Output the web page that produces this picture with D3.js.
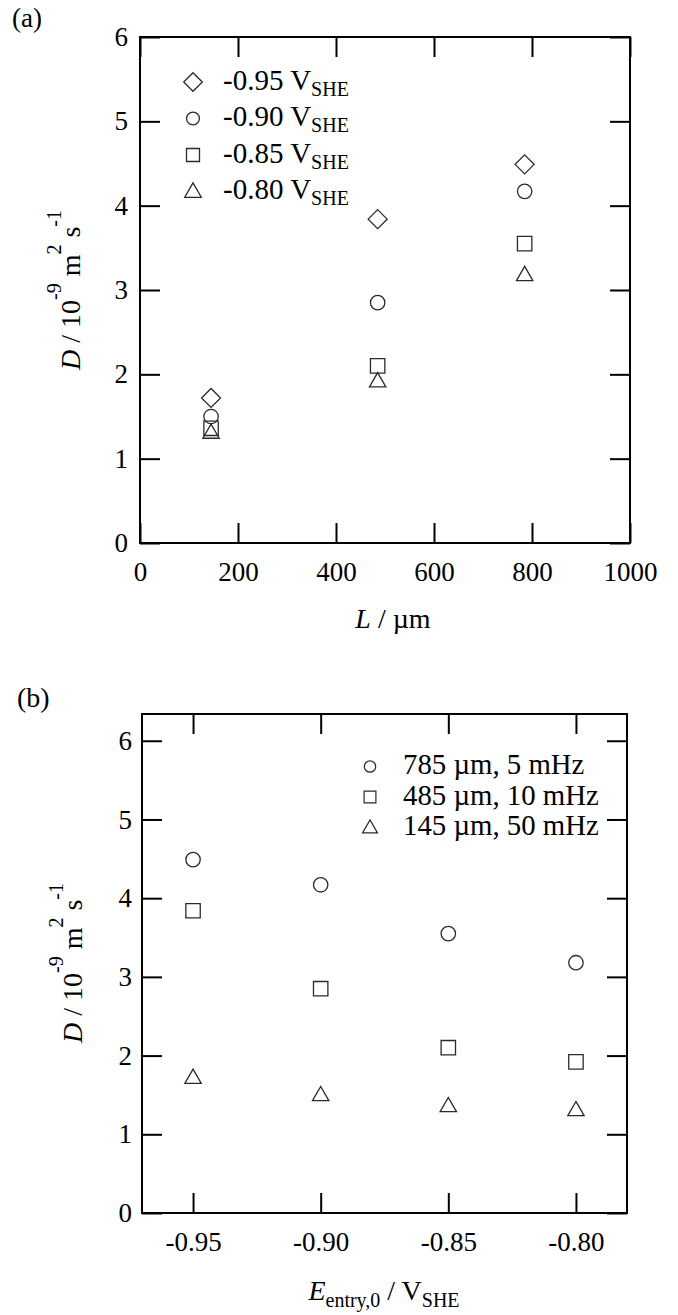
<!DOCTYPE html>
<html>
<head>
<meta charset="utf-8">
<script src="https://cdn.jsdelivr.net/npm/d3@7"></script>
<style>
  html, body { margin: 0; padding: 0; background: #fff; }
  svg { display: block; }
  text { font-family: "Liberation Serif", "Times New Roman", serif; fill: #000; }
</style>
</head>
<body>
<svg id="chart" width="678" height="1315"></svg>
<script>
// Membrane thicknesses (µm) and hydrogen-entry potentials (V vs SHE)
const thicknesses = [145, 485, 785];
const potentials = [-0.95, -0.90, -0.85, -0.80];
const potentialLabels = ["-0.95", "-0.90", "-0.85", "-0.80"];

// Diffusion coefficient D (10^-9 m^2 s^-1) at each thickness, one array per potential
const D_m095 = [1.72, 3.84, 4.49];
const D_m090 = [1.50, 2.85, 4.17];
const D_m085 = [1.36, 2.10, 3.55];
const D_m080 = [1.31, 1.92, 3.18];

// Frequencies used for each thickness (panel b legend)
const freqLabels = ["785 µm, 5 mHz", "485 µm, 10 mHz", "145 µm, 50 mHz"];

// Axis ticks
const xTicksA = [0, 200, 400, 600, 800, 1000];
const yTicksA = [0, 1, 2, 3, 4, 5, 6];
const xTicksB = [-0.95, -0.90, -0.85, -0.80];
const yTicksB = [0, 1, 2, 3, 4, 5, 6];

const svg = d3.select("#chart");
const FONT = 27;
const STROKE = "#2a2a2a";

// Outline markers: r is the half-extent of the shape
function markerPath(kind, r) {
  const p = d3.path();
  if (kind === "circle") {
    p.moveTo(r, 0); p.arc(0, 0, r, 0, 2 * Math.PI);
  } else if (kind === "square") {
    p.rect(-r, -r, 2 * r, 2 * r);
  } else if (kind === "diamond") {
    p.moveTo(0, -r); p.lineTo(r, 0); p.lineTo(0, r); p.lineTo(-r, 0); p.closePath();
  } else if (kind === "triangle") {
    const h = r * Math.sqrt(3);
    p.moveTo(0, -h * 2 / 3 + 1); p.lineTo(r, h / 3 + 1); p.lineTo(-r, h / 3 + 1); p.closePath();
  }
  return p.toString();
}
const markerSize = { diamond: 9.5, circle: 7.2, square: 7.2, triangle: 8.2 };
const legendSizeA = { diamond: 9.3, circle: 6.4, square: 6.5, triangle: 8.3 };
const legendSizeB = { circle: 5.7, square: 5.9, triangle: 7.5 };

function drawFrame(g, x, y, xTicks, yTicks, fmtX, xPad, yPad) {
  const [x0, x1] = x.range();
  const [y0, y1] = y.range();
  const w = x1 - x0, h = y0 - y1;
  const axes = [
    { ax: d3.axisBottom(x).tickValues(xTicks).tickFormat(fmtX).tickSize(-20).tickPadding(xPad), t: `translate(0,${y0})` },
    { ax: d3.axisTop(x).tickValues(xTicks).tickFormat("").tickSize(-20), t: `translate(0,${y1})` },
    { ax: d3.axisLeft(y).tickValues(yTicks).tickFormat(d3.format("d")).tickSize(-20).tickPadding(yPad), t: `translate(${x0},0)` },
    { ax: d3.axisRight(y).tickValues(yTicks).tickFormat("").tickSize(-20), t: `translate(${x1},0)` }
  ];
  axes.forEach(a => {
    const ag = g.append("g").attr("transform", a.t).call(a.ax);
    ag.select(".domain").remove();
    ag.selectAll(".tick line").attr("stroke", "#000").attr("stroke-width", 2);
    ag.selectAll(".tick text")
      .attr("font-family", "Liberation Serif, Times New Roman, serif")
      .attr("font-size", FONT).attr("fill", "#000");
  });
  g.append("rect")
    .attr("x", x0).attr("y", y1).attr("width", w).attr("height", h)
    .attr("fill", "none").attr("stroke", "#000").attr("stroke-width", 2);
}

function yTitle(g, cx, cy) {
  const t = g.append("text")
    .attr("transform", `translate(${cx},${cy}) rotate(-90)`)
    .attr("text-anchor", "middle").attr("font-size", 28);
  t.append("tspan").attr("font-style", "italic").text("D");
  t.append("tspan").text(" / 10");
  t.append("tspan").attr("font-size", 20).attr("dy", -19).text("-9");
  t.append("tspan").attr("dy", 19).text(" m");
  t.append("tspan").attr("font-size", 20).attr("dy", -19).text("2");
  t.append("tspan").attr("dy", 19).text(" s");
  t.append("tspan").attr("font-size", 20).attr("dy", -19).text("-1");
}

function drawPoints(g, pts, kind, size) {
  g.selectAll(null).data(pts).enter().append("path")
    .attr("d", markerPath(kind, size))
    .attr("transform", d => `translate(${d[0]},${d[1]})`)
    .attr("fill", "none").attr("stroke", STROKE).attr("stroke-width", 1.3);
}

/* ---------- Panel (a): D versus thickness ---------- */
const gA = svg.append("g");
const xA = d3.scaleLinear().domain([0, 1000]).range([140, 630]);
const yA = d3.scaleLinear().domain([0, 6]).range([543, 37]);

svg.append("text").attr("x", 12).attr("y", 27).attr("font-size", 27).text("(a)");
drawFrame(gA, xA, yA, xTicksA, yTicksA, d3.format("d"), 19, 12);

const seriesA = [
  { label: "-0.95", kind: "diamond", values: D_m095 },
  { label: "-0.90", kind: "circle", values: D_m090 },
  { label: "-0.85", kind: "square", values: D_m085 },
  { label: "-0.80", kind: "triangle", values: D_m080 }
];
seriesA.forEach(s => {
  drawPoints(gA, thicknesses.map((L, i) => [xA(L), yA(s.values[i])]), s.kind, markerSize[s.kind]);
});

// legend (a)
seriesA.forEach((s, i) => {
  const ly = 82 + i * 36.5;
  gA.append("path").attr("d", markerPath(s.kind, legendSizeA[s.kind]))
    .attr("transform", `translate(193,${ly})`)
    .attr("fill", "none").attr("stroke", STROKE).attr("stroke-width", 1.3);
  const t = gA.append("text").attr("x", 223).attr("y", ly + 7.5).attr("font-size", 29);
  t.append("tspan").text(s.label + " V");
  t.append("tspan").attr("font-size", 20).attr("dy", 6).text("SHE");
});

const xtA = gA.append("text").attr("x", 393).attr("y", 628)
  .attr("text-anchor", "middle").attr("font-size", 28);
xtA.append("tspan").attr("font-style", "italic").text("L");
xtA.append("tspan").text(" / µm");
yTitle(gA, 80, 290);

/* ---------- Panel (b): D versus entry potential ---------- */
const gB = svg.append("g");
const xB = d3.scaleLinear().domain([-0.97, -0.78]).range([142, 627]);
const yB = d3.scaleLinear().domain([0, 6.34]).range([1213, 714]);

svg.append("text").attr("x", 17).attr("y", 707).attr("font-size", 28).text("(b)");
drawFrame(gB, xB, yB, xTicksB, yTicksB, (d) => potentialLabels[xTicksB.indexOf(d)], 19, 10);

const byPotential = [D_m095, D_m090, D_m085, D_m080];
const seriesB = [
  { kind: "circle", idx: 2 },
  { kind: "square", idx: 1 },
  { kind: "triangle", idx: 0 }
];
seriesB.forEach(s => {
  drawPoints(gB, potentials.map((E, j) => [xB(E), yB(byPotential[j][s.idx])]), s.kind, markerSize[s.kind]);
});

// legend (b)
seriesB.forEach((s, i) => {
  const ly = 766.5 + i * 30.5;
  gB.append("path").attr("d", markerPath(s.kind, legendSizeB[s.kind]))
    .attr("transform", `translate(370,${ly})`)
    .attr("fill", "none").attr("stroke", STROKE).attr("stroke-width", 1.2);
  gB.append("text").attr("x", 403).attr("y", ly + 7.5).attr("font-size", 28.8).text(freqLabels[i]);
});

const xtB = gB.append("text").attr("x", 384).attr("y", 1300)
  .attr("text-anchor", "middle").attr("font-size", 28);
xtB.append("tspan").attr("font-style", "italic").text("E");
xtB.append("tspan").attr("font-size", 20).attr("dy", 7).text("entry,0");
xtB.append("tspan").attr("dy", -7).text(" / V");
xtB.append("tspan").attr("font-size", 20).attr("dy", 7).text("SHE");
yTitle(gB, 82, 963);
</script>
</body>
</html>
